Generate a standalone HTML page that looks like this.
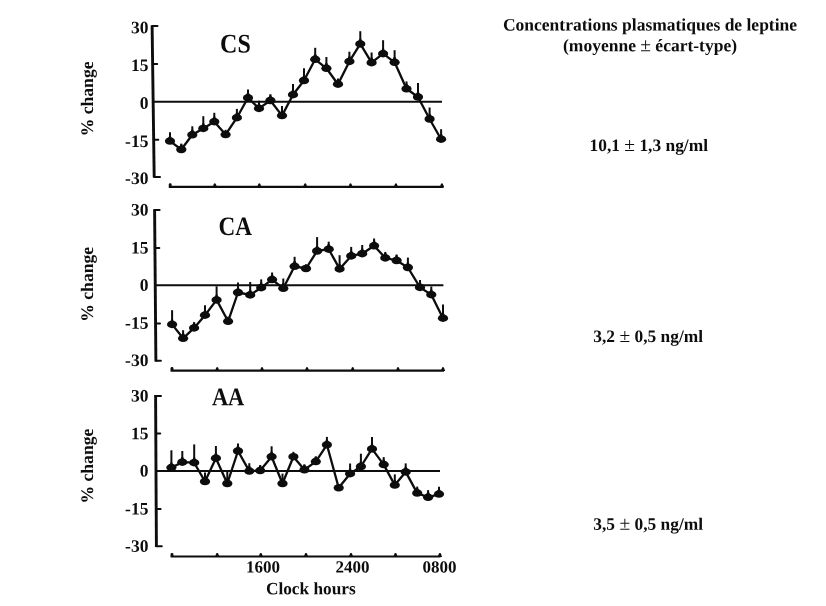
<!DOCTYPE html>
<html><head><meta charset="utf-8"><style>
html,body{margin:0;padding:0;background:#fff;}
body{width:826px;height:606px;overflow:hidden;}
svg{display:block;filter:grayscale(1);}
text{font-family:"Liberation Serif",serif;font-weight:bold;fill:#0d0d0d;}
</style></head><body>
<svg width="826" height="606" viewBox="0 0 826 606">
<rect width="826" height="606" fill="#fff"/>

<text transform="translate(650,30.5) rotate(0.03)" font-size="17.5" text-anchor="middle">Concentrations plasmatiques de leptine</text>
<text transform="translate(650,51.2) rotate(0.03)" font-size="17.5" text-anchor="middle">(moyenne <tspan font-weight='normal' font-size='19.5'>±</tspan> écart-type)</text>
<text transform="translate(648.8,151) rotate(0.03)" font-size="17.4" text-anchor="middle">10,1 <tspan font-weight='normal' font-size='19.5'>±</tspan> 1,3 ng/ml</text>
<text transform="translate(648.2,342) rotate(0.03)" font-size="17.4" text-anchor="middle">3,2 <tspan font-weight='normal' font-size='19.5'>±</tspan> 0,5 ng/ml</text>
<text transform="translate(648.2,529.7) rotate(0.03)" font-size="17.4" text-anchor="middle">3,5 <tspan font-weight='normal' font-size='19.5'>±</tspan> 0,5 ng/ml</text>
<line x1="152.1" y1="25.4" x2="154.2" y2="177.6" stroke="#0d0d0d" stroke-width="2.9"/>
<line x1="152.1" y1="26.1" x2="157.5" y2="26.1" stroke="#0d0d0d" stroke-width="2" stroke-linecap="round"/>
<text transform="translate(148.4,33.20) rotate(0.03)" font-size="17.5" text-anchor="end">30</text>
<line x1="152.6" y1="63.9" x2="157.2" y2="63.9" stroke="#0d0d0d" stroke-width="2" stroke-linecap="round"/>
<text transform="translate(148.4,71.00) rotate(0.03)" font-size="17.5" text-anchor="end">15</text>
<text transform="translate(148.4,108.80) rotate(0.03)" font-size="17.5" text-anchor="end">0</text>
<line x1="153.7" y1="139.8" x2="158.3" y2="139.8" stroke="#0d0d0d" stroke-width="2" stroke-linecap="round"/>
<text transform="translate(148.4,146.90) rotate(0.03)" font-size="17.5" text-anchor="end">-15</text>
<line x1="154.2" y1="176.9" x2="160.0" y2="176.9" stroke="#0d0d0d" stroke-width="2" stroke-linecap="round"/>
<text transform="translate(148.4,184.00) rotate(0.03)" font-size="17.5" text-anchor="end">-30</text>
<line x1="153.2" y1="101.7" x2="442" y2="101.7" stroke="#0d0d0d" stroke-width="2"/>
<line x1="168.8" y1="186.85" x2="443.5" y2="186.85" stroke="#0d0d0d" stroke-width="2.1"/>
<rect x="168.8" y="183.2" width="2.8" height="4" rx="1.2" fill="#0d0d0d"/>
<path d="M212.6,187.3 L213.9,183.7 Q214.8,182.9 215.7,183.7 L217.0,187.3Z" fill="#0d0d0d"/>
<path d="M257.1,187.3 L258.4,183.7 Q259.3,182.9 260.2,183.7 L261.5,187.3Z" fill="#0d0d0d"/>
<path d="M303.0,187.3 L304.3,183.7 Q305.2,182.9 306.1,183.7 L307.4,187.3Z" fill="#0d0d0d"/>
<path d="M348.3,187.3 L349.6,183.7 Q350.5,182.9 351.4,183.7 L352.7,187.3Z" fill="#0d0d0d"/>
<path d="M393.7,187.3 L395.0,183.7 Q395.9,182.9 396.8,183.7 L398.1,187.3Z" fill="#0d0d0d"/>
<path d="M439.7,187.3 L441.0,183.7 Q441.9,182.9 442.8,183.7 L444.1,187.3Z" fill="#0d0d0d"/>
<text transform="translate(220.1,52.45) rotate(0.03) scale(1.0,1.12)" font-size="24" text-anchor="start">CS</text>
<text transform="translate(93.1,98.9) rotate(-89.97)" font-size="17.6" text-anchor="middle">% change</text>
<polyline points="170,141.1 181.3,149.5 192.3,134.8 203.3,128.4 214.3,121.7 225.6,134.6 236.9,117.7 248,97.8 259,108.4 270.4,100.5 282,115.6 293,94.7 304,80.5 315.2,59.3 326.4,68.3 338,84.2 349.4,61.4 360.3,43.9 371.6,62.7 383.1,53.7 394.6,62.3 406.5,88.8 418,97 429.6,119 441.1,139.2" fill="none" stroke="#0d0d0d" stroke-width="2.3" stroke-linejoin="round"/>
<line x1="170" y1="141.1" x2="170" y2="132.3" stroke="#0d0d0d" stroke-width="2"/>
<ellipse cx="170" cy="141.1" rx="5.1" ry="3.75" fill="#0d0d0d"/>
<path d="M167.2,138.7 Q169.0,137.7 169.1,135.9 L170.9,135.9 Q171.0,137.7 172.8,138.7Z" fill="#0d0d0d"/>
<line x1="181.3" y1="149.5" x2="181.3" y2="143.6" stroke="#0d0d0d" stroke-width="2"/>
<ellipse cx="181.3" cy="149.5" rx="5.1" ry="3.75" fill="#0d0d0d"/>
<path d="M178.5,147.1 Q180.3,146.1 180.4,144.3 L182.2,144.3 Q182.3,146.1 184.1,147.1Z" fill="#0d0d0d"/>
<line x1="192.3" y1="134.8" x2="192.3" y2="126.3" stroke="#0d0d0d" stroke-width="2"/>
<ellipse cx="192.3" cy="134.8" rx="5.1" ry="3.75" fill="#0d0d0d"/>
<path d="M189.5,132.4 Q191.3,131.4 191.4,129.6 L193.2,129.6 Q193.3,131.4 195.1,132.4Z" fill="#0d0d0d"/>
<line x1="203.3" y1="128.4" x2="203.3" y2="116.2" stroke="#0d0d0d" stroke-width="2"/>
<ellipse cx="203.3" cy="128.4" rx="5.1" ry="3.75" fill="#0d0d0d"/>
<path d="M200.5,126.0 Q202.3,125.0 202.4,123.2 L204.2,123.2 Q204.3,125.0 206.1,126.0Z" fill="#0d0d0d"/>
<line x1="214.3" y1="121.7" x2="214.3" y2="112.8" stroke="#0d0d0d" stroke-width="2"/>
<ellipse cx="214.3" cy="121.7" rx="5.1" ry="3.75" fill="#0d0d0d"/>
<path d="M211.5,119.3 Q213.3,118.3 213.4,116.5 L215.2,116.5 Q215.3,118.3 217.1,119.3Z" fill="#0d0d0d"/>
<line x1="225.6" y1="134.6" x2="225.6" y2="129.8" stroke="#0d0d0d" stroke-width="2"/>
<ellipse cx="225.6" cy="134.6" rx="5.1" ry="3.75" fill="#0d0d0d"/>
<line x1="236.9" y1="117.7" x2="236.9" y2="108.9" stroke="#0d0d0d" stroke-width="2"/>
<ellipse cx="236.9" cy="117.7" rx="5.1" ry="3.75" fill="#0d0d0d"/>
<path d="M234.1,115.3 Q235.9,114.3 236.0,112.5 L237.8,112.5 Q237.9,114.3 239.7,115.3Z" fill="#0d0d0d"/>
<line x1="248" y1="97.8" x2="248" y2="89.4" stroke="#0d0d0d" stroke-width="2"/>
<ellipse cx="248" cy="97.8" rx="5.1" ry="3.75" fill="#0d0d0d"/>
<path d="M245.2,95.4 Q247.0,94.4 247.1,92.6 L248.9,92.6 Q249.0,94.4 250.8,95.4Z" fill="#0d0d0d"/>
<line x1="259" y1="108.4" x2="259" y2="100.8" stroke="#0d0d0d" stroke-width="2"/>
<ellipse cx="259" cy="108.4" rx="5.1" ry="3.75" fill="#0d0d0d"/>
<path d="M256.2,106.0 Q258.0,105.0 258.1,103.2 L259.9,103.2 Q260.0,105.0 261.8,106.0Z" fill="#0d0d0d"/>
<line x1="270.4" y1="100.5" x2="270.4" y2="94.2" stroke="#0d0d0d" stroke-width="2"/>
<ellipse cx="270.4" cy="100.5" rx="5.1" ry="3.75" fill="#0d0d0d"/>
<path d="M267.6,98.1 Q269.4,97.1 269.5,95.3 L271.3,95.3 Q271.4,97.1 273.2,98.1Z" fill="#0d0d0d"/>
<line x1="282" y1="115.6" x2="282" y2="106" stroke="#0d0d0d" stroke-width="2"/>
<ellipse cx="282" cy="115.6" rx="5.1" ry="3.75" fill="#0d0d0d"/>
<path d="M279.2,113.2 Q281.0,112.2 281.1,110.4 L282.9,110.4 Q283.0,112.2 284.8,113.2Z" fill="#0d0d0d"/>
<line x1="293" y1="94.7" x2="293" y2="84" stroke="#0d0d0d" stroke-width="2"/>
<ellipse cx="293" cy="94.7" rx="5.1" ry="3.75" fill="#0d0d0d"/>
<path d="M290.2,92.3 Q292.0,91.3 292.1,89.5 L293.9,89.5 Q294.0,91.3 295.8,92.3Z" fill="#0d0d0d"/>
<line x1="304" y1="80.5" x2="304" y2="68.3" stroke="#0d0d0d" stroke-width="2"/>
<ellipse cx="304" cy="80.5" rx="5.1" ry="3.75" fill="#0d0d0d"/>
<path d="M301.2,78.1 Q303.0,77.1 303.1,75.3 L304.9,75.3 Q305.0,77.1 306.8,78.1Z" fill="#0d0d0d"/>
<line x1="315.2" y1="59.3" x2="315.2" y2="47.8" stroke="#0d0d0d" stroke-width="2"/>
<ellipse cx="315.2" cy="59.3" rx="5.1" ry="3.75" fill="#0d0d0d"/>
<path d="M312.4,56.9 Q314.2,55.9 314.3,54.1 L316.1,54.1 Q316.2,55.9 318.0,56.9Z" fill="#0d0d0d"/>
<line x1="326.4" y1="68.3" x2="326.4" y2="57" stroke="#0d0d0d" stroke-width="2"/>
<ellipse cx="326.4" cy="68.3" rx="5.1" ry="3.75" fill="#0d0d0d"/>
<path d="M323.6,65.9 Q325.4,64.9 325.5,63.1 L327.3,63.1 Q327.4,64.9 329.2,65.9Z" fill="#0d0d0d"/>
<line x1="338" y1="84.2" x2="338" y2="78.5" stroke="#0d0d0d" stroke-width="2"/>
<ellipse cx="338" cy="84.2" rx="5.1" ry="3.75" fill="#0d0d0d"/>
<path d="M335.2,81.8 Q337.0,80.8 337.1,79.0 L338.9,79.0 Q339.0,80.8 340.8,81.8Z" fill="#0d0d0d"/>
<line x1="349.4" y1="61.4" x2="349.4" y2="51.7" stroke="#0d0d0d" stroke-width="2"/>
<ellipse cx="349.4" cy="61.4" rx="5.1" ry="3.75" fill="#0d0d0d"/>
<path d="M346.6,59.0 Q348.4,58.0 348.5,56.2 L350.3,56.2 Q350.4,58.0 352.2,59.0Z" fill="#0d0d0d"/>
<line x1="360.3" y1="43.9" x2="360.3" y2="31.2" stroke="#0d0d0d" stroke-width="2"/>
<ellipse cx="360.3" cy="43.9" rx="5.1" ry="3.75" fill="#0d0d0d"/>
<path d="M357.5,41.5 Q359.3,40.5 359.4,38.7 L361.2,38.7 Q361.3,40.5 363.1,41.5Z" fill="#0d0d0d"/>
<line x1="371.6" y1="62.7" x2="371.6" y2="52.5" stroke="#0d0d0d" stroke-width="2"/>
<ellipse cx="371.6" cy="62.7" rx="5.1" ry="3.75" fill="#0d0d0d"/>
<path d="M368.8,60.3 Q370.6,59.3 370.7,57.5 L372.5,57.5 Q372.6,59.3 374.4,60.3Z" fill="#0d0d0d"/>
<line x1="383.1" y1="53.7" x2="383.1" y2="40.2" stroke="#0d0d0d" stroke-width="2"/>
<ellipse cx="383.1" cy="53.7" rx="5.1" ry="3.75" fill="#0d0d0d"/>
<path d="M380.3,51.3 Q382.1,50.3 382.2,48.5 L384.0,48.5 Q384.1,50.3 385.9,51.3Z" fill="#0d0d0d"/>
<line x1="394.6" y1="62.3" x2="394.6" y2="50.2" stroke="#0d0d0d" stroke-width="2"/>
<ellipse cx="394.6" cy="62.3" rx="5.1" ry="3.75" fill="#0d0d0d"/>
<path d="M391.8,59.9 Q393.6,58.9 393.7,57.1 L395.5,57.1 Q395.6,58.9 397.4,59.9Z" fill="#0d0d0d"/>
<line x1="406.5" y1="88.8" x2="406.5" y2="81.4" stroke="#0d0d0d" stroke-width="2"/>
<ellipse cx="406.5" cy="88.8" rx="5.1" ry="3.75" fill="#0d0d0d"/>
<path d="M403.7,86.4 Q405.5,85.4 405.6,83.6 L407.4,83.6 Q407.5,85.4 409.3,86.4Z" fill="#0d0d0d"/>
<line x1="418" y1="97" x2="418" y2="83" stroke="#0d0d0d" stroke-width="2"/>
<ellipse cx="418" cy="97" rx="5.1" ry="3.75" fill="#0d0d0d"/>
<path d="M415.2,94.6 Q417.0,93.6 417.1,91.8 L418.9,91.8 Q419.0,93.6 420.8,94.6Z" fill="#0d0d0d"/>
<line x1="429.6" y1="119" x2="429.6" y2="107.5" stroke="#0d0d0d" stroke-width="2"/>
<ellipse cx="429.6" cy="119" rx="5.1" ry="3.75" fill="#0d0d0d"/>
<path d="M426.8,116.6 Q428.6,115.6 428.7,113.8 L430.5,113.8 Q430.6,115.6 432.4,116.6Z" fill="#0d0d0d"/>
<line x1="441.1" y1="139.2" x2="441.1" y2="129.2" stroke="#0d0d0d" stroke-width="2"/>
<ellipse cx="441.1" cy="139.2" rx="5.1" ry="3.75" fill="#0d0d0d"/>
<path d="M438.3,136.8 Q440.1,135.8 440.2,134.0 L442.0,134.0 Q442.1,135.8 443.9,136.8Z" fill="#0d0d0d"/>
<line x1="154.6" y1="209.2" x2="155.9" y2="361.5" stroke="#0d0d0d" stroke-width="2.9"/>
<line x1="154.6" y1="210.1" x2="159.6" y2="210.1" stroke="#0d0d0d" stroke-width="2" stroke-linecap="round"/>
<text transform="translate(148.4,215.50) rotate(0.03)" font-size="17.5" text-anchor="end">30</text>
<line x1="154.9" y1="248.1" x2="159.3" y2="248.1" stroke="#0d0d0d" stroke-width="2" stroke-linecap="round"/>
<text transform="translate(148.4,253.50) rotate(0.03)" font-size="17.5" text-anchor="end">15</text>
<text transform="translate(148.4,290.70) rotate(0.03)" font-size="17.5" text-anchor="end">0</text>
<line x1="155.6" y1="323.4" x2="160.0" y2="323.4" stroke="#0d0d0d" stroke-width="2" stroke-linecap="round"/>
<text transform="translate(148.4,328.80) rotate(0.03)" font-size="17.5" text-anchor="end">-15</text>
<line x1="155.9" y1="360.7" x2="160.9" y2="360.7" stroke="#0d0d0d" stroke-width="2" stroke-linecap="round"/>
<text transform="translate(148.4,366.10) rotate(0.03)" font-size="17.5" text-anchor="end">-30</text>
<line x1="155.2" y1="285.3" x2="443.4" y2="285.3" stroke="#0d0d0d" stroke-width="2"/>
<line x1="170.6" y1="370.6" x2="444" y2="370.6" stroke="#0d0d0d" stroke-width="2.1"/>
<rect x="170.6" y="367.0" width="2.8" height="4" rx="1.2" fill="#0d0d0d"/>
<path d="M215.0,371.1 L216.3,367.4 Q217.2,366.7 218.1,367.4 L219.4,371.1Z" fill="#0d0d0d"/>
<path d="M259.8,371.1 L261.1,367.4 Q262.0,366.7 262.9,367.4 L264.2,371.1Z" fill="#0d0d0d"/>
<path d="M304.8,371.1 L306.1,367.4 Q307.0,366.7 307.9,367.4 L309.2,371.1Z" fill="#0d0d0d"/>
<path d="M350.5,371.1 L351.8,367.4 Q352.7,366.7 353.6,367.4 L354.9,371.1Z" fill="#0d0d0d"/>
<path d="M395.8,371.1 L397.1,367.4 Q398.0,366.7 398.9,367.4 L400.2,371.1Z" fill="#0d0d0d"/>
<path d="M440.8,371.1 L442.1,367.4 Q443.0,366.7 443.9,367.4 L445.2,371.1Z" fill="#0d0d0d"/>
<text transform="translate(218.6,235.4) rotate(0.03) scale(0.965,1.105)" font-size="24" text-anchor="start">CA</text>
<text transform="translate(93.1,284.3) rotate(-89.97)" font-size="17.6" text-anchor="middle">% change</text>
<polyline points="172.1,324.4 183.1,338.3 194.1,327.9 205,315.2 216.6,299.9 228.1,321.3 238,292.5 250.2,294.9 261.2,287.7 272.1,279.6 283.3,288.3 294.6,266.3 306,268.5 317.1,251 328.7,249.2 339.6,268.9 351.2,255.9 362.2,253.7 374.1,245.8 385.3,257.9 396.6,260.5 407.9,267.5 420,287.4 431.3,294.7 443,318.2" fill="none" stroke="#0d0d0d" stroke-width="2.3" stroke-linejoin="round"/>
<line x1="172.1" y1="324.4" x2="172.1" y2="310.2" stroke="#0d0d0d" stroke-width="2"/>
<ellipse cx="172.1" cy="324.4" rx="5.1" ry="3.75" fill="#0d0d0d"/>
<path d="M169.3,322.0 Q171.1,321.0 171.2,319.2 L173.0,319.2 Q173.1,321.0 174.9,322.0Z" fill="#0d0d0d"/>
<line x1="183.1" y1="338.3" x2="183.1" y2="330.2" stroke="#0d0d0d" stroke-width="2"/>
<ellipse cx="183.1" cy="338.3" rx="5.1" ry="3.75" fill="#0d0d0d"/>
<path d="M180.3,335.9 Q182.1,334.9 182.2,333.1 L184.0,333.1 Q184.1,334.9 185.9,335.9Z" fill="#0d0d0d"/>
<line x1="194.1" y1="327.9" x2="194.1" y2="322.1" stroke="#0d0d0d" stroke-width="2"/>
<ellipse cx="194.1" cy="327.9" rx="5.1" ry="3.75" fill="#0d0d0d"/>
<path d="M191.3,325.5 Q193.1,324.5 193.2,322.7 L195.0,322.7 Q195.1,324.5 196.9,325.5Z" fill="#0d0d0d"/>
<line x1="205" y1="315.2" x2="205" y2="305.2" stroke="#0d0d0d" stroke-width="2"/>
<ellipse cx="205" cy="315.2" rx="5.1" ry="3.75" fill="#0d0d0d"/>
<path d="M202.2,312.8 Q204.0,311.8 204.1,310.0 L205.9,310.0 Q206.0,311.8 207.8,312.8Z" fill="#0d0d0d"/>
<line x1="216.6" y1="299.9" x2="216.6" y2="286.3" stroke="#0d0d0d" stroke-width="2"/>
<ellipse cx="216.6" cy="299.9" rx="5.1" ry="3.75" fill="#0d0d0d"/>
<path d="M213.8,297.5 Q215.6,296.5 215.7,294.7 L217.5,294.7 Q217.6,296.5 219.4,297.5Z" fill="#0d0d0d"/>
<line x1="228.1" y1="321.3" x2="228.1" y2="316.7" stroke="#0d0d0d" stroke-width="2"/>
<ellipse cx="228.1" cy="321.3" rx="5.1" ry="3.75" fill="#0d0d0d"/>
<line x1="238" y1="292.5" x2="238" y2="282.5" stroke="#0d0d0d" stroke-width="2"/>
<ellipse cx="238" cy="292.5" rx="5.1" ry="3.75" fill="#0d0d0d"/>
<path d="M235.2,290.1 Q237.0,289.1 237.1,287.3 L238.9,287.3 Q239.0,289.1 240.8,290.1Z" fill="#0d0d0d"/>
<line x1="250.2" y1="294.9" x2="250.2" y2="282" stroke="#0d0d0d" stroke-width="2"/>
<ellipse cx="250.2" cy="294.9" rx="5.1" ry="3.75" fill="#0d0d0d"/>
<path d="M247.4,292.5 Q249.2,291.5 249.3,289.7 L251.1,289.7 Q251.2,291.5 253.0,292.5Z" fill="#0d0d0d"/>
<line x1="261.2" y1="287.7" x2="261.2" y2="279.4" stroke="#0d0d0d" stroke-width="2"/>
<ellipse cx="261.2" cy="287.7" rx="5.1" ry="3.75" fill="#0d0d0d"/>
<path d="M258.4,285.3 Q260.2,284.3 260.3,282.5 L262.1,282.5 Q262.2,284.3 264.0,285.3Z" fill="#0d0d0d"/>
<line x1="272.1" y1="279.6" x2="272.1" y2="272.5" stroke="#0d0d0d" stroke-width="2"/>
<ellipse cx="272.1" cy="279.6" rx="5.1" ry="3.75" fill="#0d0d0d"/>
<path d="M269.3,277.2 Q271.1,276.2 271.2,274.4 L273.0,274.4 Q273.1,276.2 274.9,277.2Z" fill="#0d0d0d"/>
<line x1="283.3" y1="288.3" x2="283.3" y2="278.5" stroke="#0d0d0d" stroke-width="2"/>
<ellipse cx="283.3" cy="288.3" rx="5.1" ry="3.75" fill="#0d0d0d"/>
<path d="M280.5,285.9 Q282.3,284.9 282.4,283.1 L284.2,283.1 Q284.3,284.9 286.1,285.9Z" fill="#0d0d0d"/>
<line x1="294.6" y1="266.3" x2="294.6" y2="256.8" stroke="#0d0d0d" stroke-width="2"/>
<ellipse cx="294.6" cy="266.3" rx="5.1" ry="3.75" fill="#0d0d0d"/>
<path d="M291.8,263.9 Q293.6,262.9 293.7,261.1 L295.5,261.1 Q295.6,262.9 297.4,263.9Z" fill="#0d0d0d"/>
<line x1="306" y1="268.5" x2="306" y2="264.2" stroke="#0d0d0d" stroke-width="2"/>
<ellipse cx="306" cy="268.5" rx="5.1" ry="3.75" fill="#0d0d0d"/>
<line x1="317.1" y1="251" x2="317.1" y2="237.1" stroke="#0d0d0d" stroke-width="2"/>
<ellipse cx="317.1" cy="251" rx="5.1" ry="3.75" fill="#0d0d0d"/>
<path d="M314.3,248.6 Q316.1,247.6 316.2,245.8 L318.0,245.8 Q318.1,247.6 319.9,248.6Z" fill="#0d0d0d"/>
<line x1="328.7" y1="249.2" x2="328.7" y2="241.7" stroke="#0d0d0d" stroke-width="2"/>
<ellipse cx="328.7" cy="249.2" rx="5.1" ry="3.75" fill="#0d0d0d"/>
<path d="M325.9,246.8 Q327.7,245.8 327.8,244.0 L329.6,244.0 Q329.7,245.8 331.5,246.8Z" fill="#0d0d0d"/>
<line x1="339.6" y1="268.9" x2="339.6" y2="255.2" stroke="#0d0d0d" stroke-width="2"/>
<ellipse cx="339.6" cy="268.9" rx="5.1" ry="3.75" fill="#0d0d0d"/>
<path d="M336.8,266.5 Q338.6,265.5 338.7,263.7 L340.5,263.7 Q340.6,265.5 342.4,266.5Z" fill="#0d0d0d"/>
<line x1="351.2" y1="255.9" x2="351.2" y2="246.9" stroke="#0d0d0d" stroke-width="2"/>
<ellipse cx="351.2" cy="255.9" rx="5.1" ry="3.75" fill="#0d0d0d"/>
<path d="M348.4,253.5 Q350.2,252.5 350.3,250.7 L352.1,250.7 Q352.2,252.5 354.0,253.5Z" fill="#0d0d0d"/>
<line x1="362.2" y1="253.7" x2="362.2" y2="245" stroke="#0d0d0d" stroke-width="2"/>
<ellipse cx="362.2" cy="253.7" rx="5.1" ry="3.75" fill="#0d0d0d"/>
<path d="M359.4,251.3 Q361.2,250.3 361.3,248.5 L363.1,248.5 Q363.2,250.3 365.0,251.3Z" fill="#0d0d0d"/>
<line x1="374.1" y1="245.8" x2="374.1" y2="238.5" stroke="#0d0d0d" stroke-width="2"/>
<ellipse cx="374.1" cy="245.8" rx="5.1" ry="3.75" fill="#0d0d0d"/>
<path d="M371.3,243.4 Q373.1,242.4 373.2,240.6 L375.0,240.6 Q375.1,242.4 376.9,243.4Z" fill="#0d0d0d"/>
<line x1="385.3" y1="257.9" x2="385.3" y2="251.9" stroke="#0d0d0d" stroke-width="2"/>
<ellipse cx="385.3" cy="257.9" rx="5.1" ry="3.75" fill="#0d0d0d"/>
<path d="M382.5,255.5 Q384.3,254.5 384.4,252.7 L386.2,252.7 Q386.3,254.5 388.1,255.5Z" fill="#0d0d0d"/>
<line x1="396.6" y1="260.5" x2="396.6" y2="254.5" stroke="#0d0d0d" stroke-width="2"/>
<ellipse cx="396.6" cy="260.5" rx="5.1" ry="3.75" fill="#0d0d0d"/>
<path d="M393.8,258.1 Q395.6,257.1 395.7,255.3 L397.5,255.3 Q397.6,257.1 399.4,258.1Z" fill="#0d0d0d"/>
<line x1="407.9" y1="267.5" x2="407.9" y2="257.6" stroke="#0d0d0d" stroke-width="2"/>
<ellipse cx="407.9" cy="267.5" rx="5.1" ry="3.75" fill="#0d0d0d"/>
<path d="M405.1,265.1 Q406.9,264.1 407.0,262.3 L408.8,262.3 Q408.9,264.1 410.7,265.1Z" fill="#0d0d0d"/>
<line x1="420" y1="287.4" x2="420" y2="280.1" stroke="#0d0d0d" stroke-width="2"/>
<ellipse cx="420" cy="287.4" rx="5.1" ry="3.75" fill="#0d0d0d"/>
<path d="M417.2,285.0 Q419.0,284.0 419.1,282.2 L420.9,282.2 Q421.0,284.0 422.8,285.0Z" fill="#0d0d0d"/>
<line x1="431.3" y1="294.7" x2="431.3" y2="286.5" stroke="#0d0d0d" stroke-width="2"/>
<ellipse cx="431.3" cy="294.7" rx="5.1" ry="3.75" fill="#0d0d0d"/>
<path d="M428.5,292.3 Q430.3,291.3 430.4,289.5 L432.2,289.5 Q432.3,291.3 434.1,292.3Z" fill="#0d0d0d"/>
<line x1="443" y1="318.2" x2="443" y2="304.4" stroke="#0d0d0d" stroke-width="2"/>
<ellipse cx="443" cy="318.2" rx="5.1" ry="3.75" fill="#0d0d0d"/>
<path d="M440.2,315.8 Q442.0,314.8 442.1,313.0 L443.9,313.0 Q444.0,314.8 445.8,315.8Z" fill="#0d0d0d"/>
<line x1="155.6" y1="394.9" x2="156.4" y2="546.9" stroke="#0d0d0d" stroke-width="2.9"/>
<line x1="155.6" y1="395.9" x2="161.0" y2="395.9" stroke="#0d0d0d" stroke-width="2" stroke-linecap="round"/>
<text transform="translate(148.4,401.50) rotate(0.03)" font-size="17.5" text-anchor="end">30</text>
<line x1="155.8" y1="433.6" x2="160.2" y2="433.6" stroke="#0d0d0d" stroke-width="2" stroke-linecap="round"/>
<text transform="translate(148.4,439.20) rotate(0.03)" font-size="17.5" text-anchor="end">15</text>
<text transform="translate(148.4,476.50) rotate(0.03)" font-size="17.5" text-anchor="end">0</text>
<line x1="156.2" y1="508.9" x2="160.6" y2="508.9" stroke="#0d0d0d" stroke-width="2" stroke-linecap="round"/>
<text transform="translate(148.4,514.50) rotate(0.03)" font-size="17.5" text-anchor="end">-15</text>
<line x1="156.4" y1="546.2" x2="161.8" y2="546.2" stroke="#0d0d0d" stroke-width="2" stroke-linecap="round"/>
<text transform="translate(148.4,551.80) rotate(0.03)" font-size="17.5" text-anchor="end">-30</text>
<line x1="156.0" y1="470.9" x2="440" y2="470.9" stroke="#0d0d0d" stroke-width="2"/>
<line x1="170.6" y1="556.5" x2="440.5" y2="556.5" stroke="#0d0d0d" stroke-width="2.1"/>
<rect x="170.6" y="552.9" width="2.8" height="4" rx="1.2" fill="#0d0d0d"/>
<path d="M215.0,557.0 L216.3,553.3 Q217.2,552.6 218.1,553.3 L219.4,557.0Z" fill="#0d0d0d"/>
<path d="M258.6,557.0 L259.9,553.3 Q260.8,552.6 261.7,553.3 L263.0,557.0Z" fill="#0d0d0d"/>
<path d="M303.8,557.0 L305.1,553.3 Q306.0,552.6 306.9,553.3 L308.2,557.0Z" fill="#0d0d0d"/>
<path d="M348.8,557.0 L350.1,553.3 Q351.0,552.6 351.9,553.3 L353.2,557.0Z" fill="#0d0d0d"/>
<path d="M393.3,557.0 L394.6,553.3 Q395.5,552.6 396.4,553.3 L397.7,557.0Z" fill="#0d0d0d"/>
<path d="M437.7,557.0 L439.0,553.3 Q439.9,552.6 440.8,553.3 L442.1,557.0Z" fill="#0d0d0d"/>
<text transform="translate(211.9,405.2) rotate(0.03) scale(0.935,1.055)" font-size="24" text-anchor="start">AA</text>
<text transform="translate(93.1,466.1) rotate(-89.97)" font-size="17.6" text-anchor="middle">% change</text>
<polyline points="171.4,467.6 182.3,462.2 194.2,462.7 205,481.5 215.9,458.2 227.3,483.5 238,451 249.3,471.1 260.2,470.6 271.6,456.7 282.5,483.5 293.4,456.7 304.4,469.8 315.8,461.6 326.9,444.8 338.7,487.8 350.1,473.7 360.9,466.5 372,448.9 383.7,464.6 394.8,485.1 405.7,471.9 417.2,493.1 428.1,497.3 439,494.1" fill="none" stroke="#0d0d0d" stroke-width="2.3" stroke-linejoin="round"/>
<line x1="171.4" y1="467.6" x2="171.4" y2="450.3" stroke="#0d0d0d" stroke-width="2"/>
<ellipse cx="171.4" cy="467.6" rx="5.1" ry="3.75" fill="#0d0d0d"/>
<path d="M168.6,465.2 Q170.4,464.2 170.5,462.4 L172.3,462.4 Q172.4,464.2 174.2,465.2Z" fill="#0d0d0d"/>
<line x1="182.3" y1="462.2" x2="182.3" y2="451" stroke="#0d0d0d" stroke-width="2"/>
<ellipse cx="182.3" cy="462.2" rx="5.1" ry="3.75" fill="#0d0d0d"/>
<path d="M179.5,459.8 Q181.3,458.8 181.4,457.0 L183.2,457.0 Q183.3,458.8 185.1,459.8Z" fill="#0d0d0d"/>
<line x1="194.2" y1="462.7" x2="194.2" y2="444.4" stroke="#0d0d0d" stroke-width="2"/>
<ellipse cx="194.2" cy="462.7" rx="5.1" ry="3.75" fill="#0d0d0d"/>
<path d="M191.4,460.3 Q193.2,459.3 193.3,457.5 L195.1,457.5 Q195.2,459.3 197.0,460.3Z" fill="#0d0d0d"/>
<line x1="205" y1="481.5" x2="205" y2="472.6" stroke="#0d0d0d" stroke-width="2"/>
<ellipse cx="205" cy="481.5" rx="5.1" ry="3.75" fill="#0d0d0d"/>
<path d="M202.2,479.1 Q204.0,478.1 204.1,476.3 L205.9,476.3 Q206.0,478.1 207.8,479.1Z" fill="#0d0d0d"/>
<line x1="215.9" y1="458.2" x2="215.9" y2="446" stroke="#0d0d0d" stroke-width="2"/>
<ellipse cx="215.9" cy="458.2" rx="5.1" ry="3.75" fill="#0d0d0d"/>
<path d="M213.1,455.8 Q214.9,454.8 215.0,453.0 L216.8,453.0 Q216.9,454.8 218.7,455.8Z" fill="#0d0d0d"/>
<line x1="227.3" y1="483.5" x2="227.3" y2="472" stroke="#0d0d0d" stroke-width="2"/>
<ellipse cx="227.3" cy="483.5" rx="5.1" ry="3.75" fill="#0d0d0d"/>
<path d="M224.5,481.1 Q226.3,480.1 226.4,478.3 L228.2,478.3 Q228.3,480.1 230.1,481.1Z" fill="#0d0d0d"/>
<line x1="238" y1="451" x2="238" y2="443.4" stroke="#0d0d0d" stroke-width="2"/>
<ellipse cx="238" cy="451" rx="5.1" ry="3.75" fill="#0d0d0d"/>
<path d="M235.2,448.6 Q237.0,447.6 237.1,445.8 L238.9,445.8 Q239.0,447.6 240.8,448.6Z" fill="#0d0d0d"/>
<line x1="249.3" y1="471.1" x2="249.3" y2="463.2" stroke="#0d0d0d" stroke-width="2"/>
<ellipse cx="249.3" cy="471.1" rx="5.1" ry="3.75" fill="#0d0d0d"/>
<path d="M246.5,468.7 Q248.3,467.7 248.4,465.9 L250.2,465.9 Q250.3,467.7 252.1,468.7Z" fill="#0d0d0d"/>
<line x1="260.2" y1="470.6" x2="260.2" y2="465.1" stroke="#0d0d0d" stroke-width="2"/>
<ellipse cx="260.2" cy="470.6" rx="5.1" ry="3.75" fill="#0d0d0d"/>
<path d="M257.4,468.2 Q259.2,467.2 259.3,465.4 L261.1,465.4 Q261.2,467.2 263.0,468.2Z" fill="#0d0d0d"/>
<line x1="271.6" y1="456.7" x2="271.6" y2="446.3" stroke="#0d0d0d" stroke-width="2"/>
<ellipse cx="271.6" cy="456.7" rx="5.1" ry="3.75" fill="#0d0d0d"/>
<path d="M268.8,454.3 Q270.6,453.3 270.7,451.5 L272.5,451.5 Q272.6,453.3 274.4,454.3Z" fill="#0d0d0d"/>
<line x1="282.5" y1="483.5" x2="282.5" y2="473.6" stroke="#0d0d0d" stroke-width="2"/>
<ellipse cx="282.5" cy="483.5" rx="5.1" ry="3.75" fill="#0d0d0d"/>
<path d="M279.7,481.1 Q281.5,480.1 281.6,478.3 L283.4,478.3 Q283.5,480.1 285.3,481.1Z" fill="#0d0d0d"/>
<line x1="293.4" y1="456.7" x2="293.4" y2="451.8" stroke="#0d0d0d" stroke-width="2"/>
<ellipse cx="293.4" cy="456.7" rx="5.1" ry="3.75" fill="#0d0d0d"/>
<line x1="304.4" y1="469.8" x2="304.4" y2="464.6" stroke="#0d0d0d" stroke-width="2"/>
<ellipse cx="304.4" cy="469.8" rx="5.1" ry="3.75" fill="#0d0d0d"/>
<path d="M301.6,467.4 Q303.4,466.4 303.5,464.6 L305.3,464.6 Q305.4,466.4 307.2,467.4Z" fill="#0d0d0d"/>
<line x1="315.8" y1="461.6" x2="315.8" y2="456.5" stroke="#0d0d0d" stroke-width="2"/>
<ellipse cx="315.8" cy="461.6" rx="5.1" ry="3.75" fill="#0d0d0d"/>
<path d="M313.0,459.2 Q314.8,458.2 314.9,456.4 L316.7,456.4 Q316.8,458.2 318.6,459.2Z" fill="#0d0d0d"/>
<line x1="326.9" y1="444.8" x2="326.9" y2="436.9" stroke="#0d0d0d" stroke-width="2"/>
<ellipse cx="326.9" cy="444.8" rx="5.1" ry="3.75" fill="#0d0d0d"/>
<path d="M324.1,442.4 Q325.9,441.4 326.0,439.6 L327.8,439.6 Q327.9,441.4 329.7,442.4Z" fill="#0d0d0d"/>
<line x1="338.7" y1="487.8" x2="338.7" y2="485" stroke="#0d0d0d" stroke-width="2"/>
<ellipse cx="338.7" cy="487.8" rx="5.1" ry="3.75" fill="#0d0d0d"/>
<line x1="350.1" y1="473.7" x2="350.1" y2="463.5" stroke="#0d0d0d" stroke-width="2"/>
<ellipse cx="350.1" cy="473.7" rx="5.1" ry="3.75" fill="#0d0d0d"/>
<path d="M347.3,471.3 Q349.1,470.3 349.2,468.5 L351.0,468.5 Q351.1,470.3 352.9,471.3Z" fill="#0d0d0d"/>
<line x1="360.9" y1="466.5" x2="360.9" y2="453.7" stroke="#0d0d0d" stroke-width="2"/>
<ellipse cx="360.9" cy="466.5" rx="5.1" ry="3.75" fill="#0d0d0d"/>
<path d="M358.1,464.1 Q359.9,463.1 360.0,461.3 L361.8,461.3 Q361.9,463.1 363.7,464.1Z" fill="#0d0d0d"/>
<line x1="372" y1="448.9" x2="372" y2="436.9" stroke="#0d0d0d" stroke-width="2"/>
<ellipse cx="372" cy="448.9" rx="5.1" ry="3.75" fill="#0d0d0d"/>
<path d="M369.2,446.5 Q371.0,445.5 371.1,443.7 L372.9,443.7 Q373.0,445.5 374.8,446.5Z" fill="#0d0d0d"/>
<line x1="383.7" y1="464.6" x2="383.7" y2="457.1" stroke="#0d0d0d" stroke-width="2"/>
<ellipse cx="383.7" cy="464.6" rx="5.1" ry="3.75" fill="#0d0d0d"/>
<path d="M380.9,462.2 Q382.7,461.2 382.8,459.4 L384.6,459.4 Q384.7,461.2 386.5,462.2Z" fill="#0d0d0d"/>
<line x1="394.8" y1="485.1" x2="394.8" y2="474.4" stroke="#0d0d0d" stroke-width="2"/>
<ellipse cx="394.8" cy="485.1" rx="5.1" ry="3.75" fill="#0d0d0d"/>
<path d="M392.0,482.7 Q393.8,481.7 393.9,479.9 L395.7,479.9 Q395.8,481.7 397.6,482.7Z" fill="#0d0d0d"/>
<line x1="405.7" y1="471.9" x2="405.7" y2="463.4" stroke="#0d0d0d" stroke-width="2"/>
<ellipse cx="405.7" cy="471.9" rx="5.1" ry="3.75" fill="#0d0d0d"/>
<path d="M402.9,469.5 Q404.7,468.5 404.8,466.7 L406.6,466.7 Q406.7,468.5 408.5,469.5Z" fill="#0d0d0d"/>
<line x1="417.2" y1="493.1" x2="417.2" y2="486.6" stroke="#0d0d0d" stroke-width="2"/>
<ellipse cx="417.2" cy="493.1" rx="5.1" ry="3.75" fill="#0d0d0d"/>
<path d="M414.4,490.7 Q416.2,489.7 416.3,487.9 L418.1,487.9 Q418.2,489.7 420.0,490.7Z" fill="#0d0d0d"/>
<line x1="428.1" y1="497.3" x2="428.1" y2="490.1" stroke="#0d0d0d" stroke-width="2"/>
<ellipse cx="428.1" cy="497.3" rx="5.1" ry="3.75" fill="#0d0d0d"/>
<path d="M425.3,494.9 Q427.1,493.9 427.2,492.1 L429.0,492.1 Q429.1,493.9 430.9,494.9Z" fill="#0d0d0d"/>
<line x1="439" y1="494.1" x2="439" y2="486.8" stroke="#0d0d0d" stroke-width="2"/>
<ellipse cx="439" cy="494.1" rx="5.1" ry="3.75" fill="#0d0d0d"/>
<path d="M436.2,491.7 Q438.0,490.7 438.1,488.9 L439.9,488.9 Q440.0,490.7 441.8,491.7Z" fill="#0d0d0d"/>
<text transform="translate(263,572.6) rotate(0.03)" font-size="17" text-anchor="middle">1600</text>
<text transform="translate(352.5,572.6) rotate(0.03)" font-size="17" text-anchor="middle">2400</text>
<text transform="translate(439.5,572.6) rotate(0.03)" font-size="17" text-anchor="middle">0800</text>
<text transform="translate(310.8,594.2) rotate(0.03)" font-size="17.3" text-anchor="middle">Clock hours</text>
</svg></body></html>
